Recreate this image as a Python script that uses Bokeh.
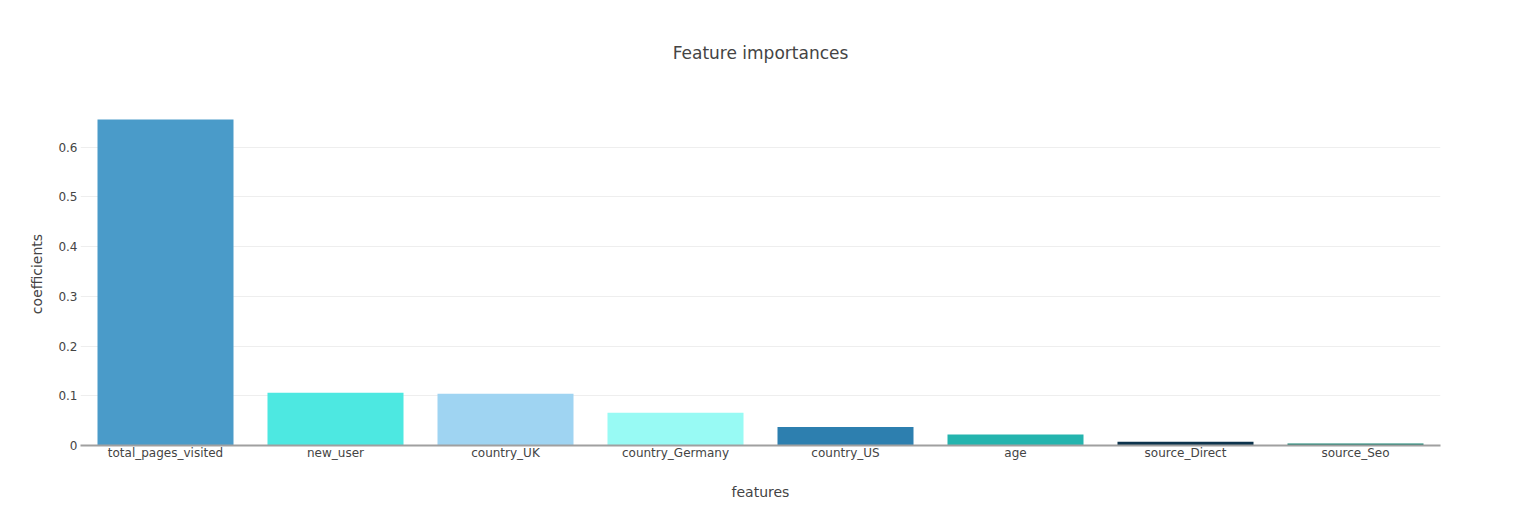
from bokeh.plotting import figure
from bokeh.models import ColumnDataSource, FixedTicker, Title, Range1d, FactorRange
from bokeh.embed import file_html
from bokeh.resources import INLINE

features = ["total_pages_visited", "new_user", "country_UK", "country_Germany",
            "country_US", "age", "source_Direct", "source_Seo"]
coefficients = [0.656, 0.106, 0.104, 0.066, 0.037, 0.022, 0.0074, 0.004]
colors = ["#4A9BC9", "#4DE8E1", "#9FD4F2", "#98FAF4", "#2D7FAF", "#24B4AE", "#0D344D", "#12806F"]
y_ticks = [0, 0.1, 0.2, 0.3, 0.4, 0.5, 0.6]
title_text = "Feature importances"

FONT = "DejaVu Sans"
TXT = "#444444"

src = ColumnDataSource(dict(features=features, coefficients=coefficients, colors=colors))

p = figure(x_range=FactorRange(*features, range_padding=0), y_range=Range1d(0, 0.69),
           width=1504, height=502, output_backend="svg", toolbar_location=None,
           min_border_left=80, min_border_right=64, min_border_top=100, min_border_bottom=10)
p.outline_line_color = None
p.background_fill_color = "white"

p.vbar(x="features", top="coefficients", width=0.8, fill_color="colors", line_color=None, source=src)

t = Title(text=title_text, align="center", text_font=FONT, text_font_size="17px",
          text_color=TXT, text_font_style="normal", standoff=80)
p.add_layout(t, "above")

p.xgrid.grid_line_color = None
p.ygrid.grid_line_color = "#eeeeee"
p.ygrid.grid_line_width = 1
p.yaxis.ticker = FixedTicker(ticks=y_ticks)
p.yaxis.major_label_overrides = {0: "0"}

for ax in (p.xaxis[0], p.yaxis[0]):
    ax.major_tick_line_color = None
    ax.minor_tick_line_color = None
    ax.major_tick_out = 0
    ax.minor_tick_out = 0
    ax.major_label_text_font = FONT
    ax.major_label_text_font_size = "12px"
    ax.major_label_text_color = TXT
    ax.axis_label_text_font = FONT
    ax.axis_label_text_font_size = "14px"
    ax.axis_label_text_color = TXT
    ax.axis_label_text_font_style = "normal"

p.yaxis.axis_line_color = None
p.xaxis.axis_line_color = "#a0a0a0"
p.xaxis.axis_line_width = 2
p.xaxis.major_label_standoff = 0
p.xaxis.axis_label = "features"
p.xaxis.axis_label_standoff = 21
p.yaxis.axis_label = "coefficients"
p.yaxis.axis_label_standoff = 10
p.yaxis.major_label_standoff = 3

open("out.html", "w").write(file_html(p, INLINE))
